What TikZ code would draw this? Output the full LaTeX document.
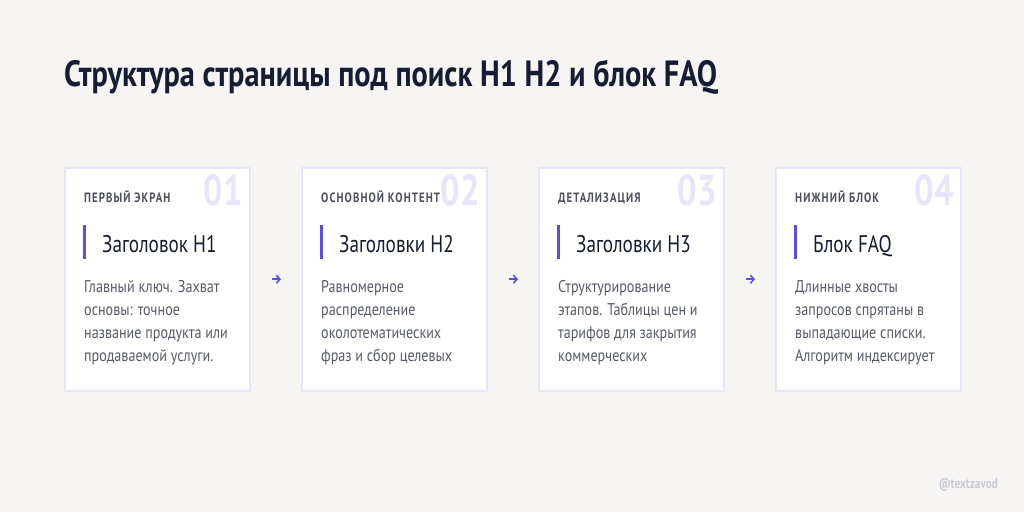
\documentclass[tikz,border=0pt]{standalone}
\usepackage{fontspec}
\setmainfont{PT Sans}
\newfontfamily\titlefont{PT Sans}[FakeStretch=0.83]
\newfontfamily\narrowfont{PT Sans}[FakeStretch=0.8]
\newfontfamily\bodyfont{PT Sans}[FakeStretch=0.83]
\newfontfamily\capsfont{PT Sans}[FakeStretch=0.8,LetterSpace=8]
\usetikzlibrary{arrows.meta}
\definecolor{bg}{HTML}{F6F5F3}
\definecolor{navy}{HTML}{161C34}
\definecolor{cardline}{HTML}{E7E5F7}
\definecolor{accent}{HTML}{5B4FE3}
\definecolor{numcol}{HTML}{E7E5F9}
\definecolor{labgray}{HTML}{4E5060}
\definecolor{bodygray}{HTML}{575A69}
\definecolor{wmgray}{HTML}{C9C9D1}
\begin{document}
\begin{tikzpicture}[x=1pt,y=-1pt,
    every node/.style={inner sep=0pt},
    card/.style={draw=cardline,line width=1.5pt,fill=white,minimum width=185pt,minimum height=223pt},
    flow/.style={-{Straight Barb[length=3.5pt,width=8pt]},line width=1.6pt,draw=accent,shorten <=21pt,shorten >=20pt},
    steplabel/.style={anchor=base west,text=labgray,font=\capsfont\bfseries\fontsize{13.5}{16}\selectfont},
    stepnum/.style={anchor=base east,text=numcol,font=\narrowfont\bfseries\fontsize{43}{46}\selectfont},
    stephead/.style={anchor=base west,text=navy,font=\narrowfont\fontsize{24}{28}\selectfont},
    steptext/.style={anchor=base west,text=bodygray,font=\bodyfont\fontsize{17}{23}\selectfont}]
\fill[bg] (0,0) rectangle (1024,512);
\useasboundingbox (0,0) rectangle (1024,512);
% title
\node[anchor=base west,text=navy,font=\titlefont\bfseries\fontsize{36.5}{40}\selectfont] (title) at (64,86)
    {Структура страницы под поиск H1 H2 и блок FAQ};
% cards
\foreach \x/\n/\lab/\head/\body in {
    64/01/ПЕРВЫЙ ЭКРАН/Заголовок H1/{Главный ключ. Захват,основы: точное,название продукта или,продаваемой услуги.},
    301/02/ОСНОВНОЙ КОНТЕНТ/Заголовки H2/{Равномерное,распределение,околотематических,фраз и сбор целевых},
    538/03/ДЕТАЛИЗАЦИЯ/Заголовки H3/{Структурирование,этапов. Таблицы цен и,тарифов для закрытия,коммерческих},
    775/04/НИЖНИЙ БЛОК/Блок FAQ/{Длинные хвосты,запросов спрятаны в,выпадающие списки.,Алгоритм индексирует}} {
  \node[card,anchor=north west] (c\n) at (\x,167) {};
  \node[stepnum] (num\n) at ({\x+179},205) {\n};
  \node[steplabel] (lab\n) at ({\x+20},202) {\lab};
  \fill[accent] ({\x+19},225) rectangle ({\x+21.5},259);
  \node[stephead] (head\n) at ({\x+38},252) {\head};
  \foreach \l [count=\i] in \body
    \node[steptext] at ({\x+20},{269+\i*23}) {\l};
}
% arrows between cards
\draw[flow] (c01) -- (c02);
\draw[flow] (c02) -- (c03);
\draw[flow] (c03) -- (c04);
\node[anchor=base east,text=wmgray,font=\narrowfont\bfseries\fontsize{14}{16}\selectfont] (mark) at (998,488) {@textzavod};
\end{tikzpicture}
\end{document}
